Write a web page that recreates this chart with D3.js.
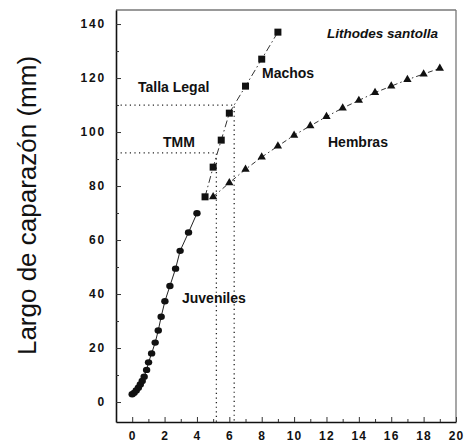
<!DOCTYPE html>
<html>
<head>
<meta charset="utf-8">
<script src="https://cdn.jsdelivr.net/npm/d3@7"></script>
<style>
  html, body { margin: 0; padding: 0; background: #fff; }
  svg { display: block; }
  text { font-family: "Liberation Sans", Arial, Helvetica, sans-serif; fill: #111; }
</style>
</head>
<body>
<svg id="chart" width="466" height="445"></svg>
<script>
// Juvenile growth (age in years vs carapace length, mm)
const juvAge = [0, 0.12, 0.25, 0.38, 0.5, 0.62, 0.74, 0.89, 1.01, 1.2, 1.42, 1.61, 1.79, 2.02, 2.33, 2.68, 2.96, 3.48, 4.0];
const juvLen = [2.9, 3.4, 4.3, 5.3, 6.5, 7.8, 9.4, 11.9, 14.7, 18.0, 22.0, 26.5, 31.6, 37.3, 43.0, 49.4, 56.0, 62.8, 69.9];

// Males (Machos)
const maleAge = [4.5, 5, 5.5, 6, 7, 8, 9];
const maleLen = [76, 87, 97, 107, 117, 127, 137];

// Females (Hembras)
const femAge = [5, 6, 7, 8, 9, 10, 11, 12, 13, 14, 15, 16, 17, 18, 19];
const femLen = [76, 81.2, 86.2, 90.7, 94.8, 98.8, 102.3, 105.7, 108.9, 111.7, 114.6, 117, 119.4, 121.5, 123.6];

// Reference sizes: size at maturity (TMM) and legal size (Talla Legal)
const refLabels = ["TMM", "Talla Legal"];
const refLen = [92.3, 110];
const refAge = [5.2, 6.3];

// Axis ticks
const xTicks = [0, 2, 4, 6, 8, 10, 12, 14, 16, 18, 20];
const xMinor = [1, 3, 5, 7, 9, 11, 13, 15, 17, 19];
const yTicks = [0, 20, 40, 60, 80, 100, 120, 140];
const yMinor = [10, 30, 50, 70, 90, 110, 130];

const svg = d3.select("#chart");

const x = d3.scaleLinear().domain([-1, 20]).range([116, 456]);
const y = d3.scaleLinear().domain([-7.4, 145.2]).range([422, 10]);

// Frame
const frame = svg.append("g");
frame.append("line").attr("x1", x(20)).attr("x2", x(20)).attr("y1", y(-7.4)).attr("y2", y(145.2))
  .attr("stroke", "#777").attr("stroke-width", 1.3);
frame.append("line").attr("x1", x(-1)).attr("x2", x(20)).attr("y1", y(145.2)).attr("y2", y(145.2))
  .attr("stroke", "#777").attr("stroke-width", 1.3);

// Bottom axis (ticks point into the plot)
const xAxis = svg.append("g").attr("transform", `translate(0,${y(-7.4)})`)
  .call(d3.axisBottom(x).tickValues(xTicks).tickSizeInner(-5).tickSizeOuter(0).tickPadding(9));
svg.append("g").attr("transform", `translate(0,${y(-7.4)})`)
  .call(d3.axisBottom(x).tickValues(xMinor).tickSizeInner(-3).tickSizeOuter(0).tickFormat(""))
  .call(g => g.select(".domain").remove());

// Left axis
const yAxis = svg.append("g").attr("transform", `translate(${x(-1)},0)`)
  .call(d3.axisLeft(y).tickValues(yTicks).tickSizeInner(-5).tickSizeOuter(0).tickPadding(10));
svg.append("g").attr("transform", `translate(${x(-1)},0)`)
  .call(d3.axisLeft(y).tickValues(yMinor).tickSizeInner(-3).tickSizeOuter(0).tickFormat(""))
  .call(g => g.select(".domain").remove());

svg.selectAll(".domain").attr("stroke", "#111").attr("stroke-width", 1.6);
svg.selectAll(".tick line").attr("stroke", "#333").attr("stroke-width", 1);
xAxis.selectAll(".tick text").attr("font-size", 12).attr("font-weight", "bold")
  .attr("letter-spacing", 1.2).attr("fill", "#111")
  .style("font-family", "'Liberation Sans', Arial, sans-serif");
yAxis.selectAll(".tick text").attr("font-size", 12).attr("font-weight", "bold")
  .attr("letter-spacing", 1.8).attr("fill", "#111")
  .style("font-family", "'Liberation Sans', Arial, sans-serif");

// Y axis title
svg.append("text")
  .attr("transform", `translate(36,${(55 + 356) / 2}) rotate(-90)`)
  .attr("text-anchor", "middle")
  .attr("font-size", 26)
  .text("Largo de caparazón (mm)");

// Dotted reference lines
const dotted = svg.append("g").attr("stroke", "#222").attr("stroke-width", 1.3)
  .attr("stroke-dasharray", "1.2,3.4").attr("fill", "none");
refLen.forEach((v, i) => {
  dotted.append("path").attr("d", d3.line()([[x(-1), y(v)], [x(refAge[i]), y(v)], [x(refAge[i]), y(-7.4)]]));
});

// Growth lines
const line = d3.line().x(d => x(d[0])).y(d => y(d[1]));
const juv = juvAge.map((a, i) => [a, juvLen[i]]);
const male = maleAge.map((a, i) => [a, maleLen[i]]);
const fem = femAge.map((a, i) => [a, femLen[i]]);

svg.append("path").datum(juv).attr("d", line).attr("fill", "none")
  .attr("stroke", "#222").attr("stroke-width", 1);
svg.append("path").datum(male).attr("d", line).attr("fill", "none")
  .attr("stroke", "#333").attr("stroke-width", 1).attr("stroke-dasharray", "7,3,1.5,3");
svg.append("path").datum(fem).attr("d", line).attr("fill", "none")
  .attr("stroke", "#333").attr("stroke-width", 1).attr("stroke-dasharray", "5,3,1.5,3");

// Markers
svg.append("g").selectAll("ellipse").data(juv).join("ellipse")
  .attr("cx", d => x(d[0])).attr("cy", d => y(d[1]))
  .attr("rx", 3.7).attr("ry", 3.2).attr("fill", "#111");

svg.append("g").selectAll("rect").data(male).join("rect")
  .attr("x", d => x(d[0]) - 3.5).attr("y", d => y(d[1]) - 3.5)
  .attr("width", 7).attr("height", 7).attr("fill", "#111");

const tri = d3.symbol().type(d3.symbolTriangle).size(30);
svg.append("g").selectAll("path").data(fem).join("path")
  .attr("transform", d => `translate(${x(d[0])},${y(d[1])})`)
  .attr("d", tri).attr("fill", "#111");

// Annotations
const ann = svg.append("g").attr("font-size", 14).attr("font-weight", "bold").attr("fill", "#222");
ann.append("text").attr("x", 138).attr("y", 92).text(refLabels[1]);
ann.append("text").attr("x", 163).attr("y", 146.5).text(refLabels[0]);
ann.append("text").attr("x", 262).attr("y", 78).text("Machos");
ann.append("text").attr("x", 328).attr("y", 146.5).text("Hembras");
ann.append("text").attr("x", 182).attr("y", 302.5).text("Juveniles");
ann.append("text").attr("x", 327).attr("y", 38).attr("font-style", "italic").attr("font-size", 13.5)
  .text("Lithodes santolla");
</script>
</body>
</html>
